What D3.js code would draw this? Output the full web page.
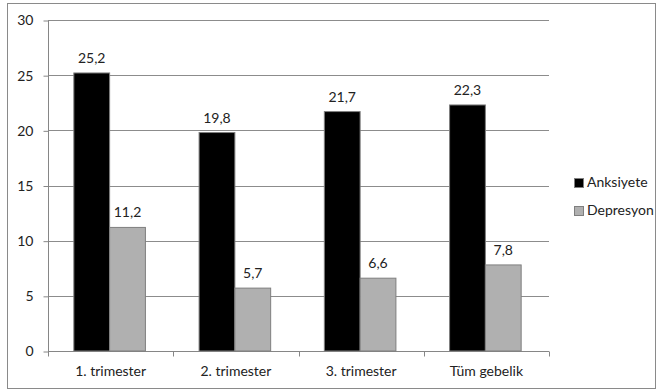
<!DOCTYPE html>
<html>
<head>
<meta charset="utf-8">
<script src="https://cdn.jsdelivr.net/npm/d3@7"></script>
<style>
    body { margin: 0; background: #fff; }
    text { font-family: Lato, 'Open Sans', sans-serif; fill: #222; }
</style>
</head>
<body>
<div id="chart"></div>
<script>
// data
const categories = ['1. trimester', '2. trimester', '3. trimester', 'Tüm gebelik'];
const seriesNames = ['Anksiyete', 'Depresyon'];
const anksiyete = [25.2, 19.8, 21.7, 22.3];
const depresyon = [11.2, 5.7, 6.6, 7.8];
const yTicks = [0, 5, 10, 15, 20, 25, 30];

const colors = { Anksiyete: '#000000', Depresyon: '#b0b0b0' };

const W = 660, H = 391;
const plot = { left: 48, right: 549, top: 20, bottom: 351 };

const svg = d3.select('#chart').append('svg').attr('width', W).attr('height', H);

// outer frame
svg.append('rect')
    .attr('x', 7.5).attr('y', 3.5)
    .attr('width', 648).attr('height', 385)
    .attr('fill', '#fff').attr('stroke', '#8a8a8a');

const x0 = d3.scaleBand().domain(categories).range([plot.left, plot.right]);
const bw = x0.bandwidth();
const barW = bw / 3.5;
const x1 = d3.scaleBand().domain(seriesNames).range([0.75 * barW - 1, bw - 0.75 * barW - 1]);
const y = d3.scaleLinear().domain([0, 30]).range([plot.bottom, plot.top]);

// gridlines
svg.append('g')
    .selectAll('line')
    .data(yTicks.filter((d) => d > 0))
    .join('line')
    .attr('x1', plot.left).attr('x2', plot.right)
    .attr('y1', (d) => Math.round(y(d)) + 0.5).attr('y2', (d) => Math.round(y(d)) + 0.5)
    .attr('stroke', '#8c8c8c');

// y axis
const gy = svg.append('g')
    .attr('transform', `translate(${plot.left + 0.5},0.5)`)
    .call(d3.axisLeft(y).tickValues(yTicks).tickSize(5).tickPadding(10).tickFormat(d3.format('d')));
gy.select('.domain').attr('stroke', '#868686').attr('d', `M0,${plot.top}V${plot.bottom}`);
gy.selectAll('.tick line').attr('stroke', '#868686');
gy.selectAll('.tick text').style('font-size', '14px').style('font-family', 'Lato').attr('fill', '#222');

// x axis, ticks between categories
const gx = svg.append('g').attr('transform', `translate(0,${plot.bottom + 0.5})`);
gx.append('line')
    .attr('x1', plot.left).attr('x2', plot.right)
    .attr('stroke', '#868686');
gx.selectAll('.sep')
    .data(categories.concat(['end']))
    .join('line')
    .attr('class', 'sep')
    .attr('x1', (d, i) => Math.round(plot.left + i * bw) + 0.5)
    .attr('x2', (d, i) => Math.round(plot.left + i * bw) + 0.5)
    .attr('y1', 0).attr('y2', 5)
    .attr('stroke', '#868686');
gx.selectAll('.lbl')
    .data(categories)
    .join('text')
    .attr('class', 'lbl')
    .attr('x', (d) => x0(d) + bw / 2)
    .attr('y', 24)
    .attr('text-anchor', 'middle')
    .style('font-size', '14px')
    .text((d) => d);

// bars
const rows = categories.map((c, i) => ({ cat: c, vals: [
    { key: 'Anksiyete', v: anksiyete[i] },
    { key: 'Depresyon', v: depresyon[i] },
] }));

const groups = svg.append('g')
    .selectAll('g')
    .data(rows)
    .join('g')
    .attr('transform', (d) => `translate(${x0(d.cat)},0)`);

groups.selectAll('rect')
    .data((d) => d.vals)
    .join('rect')
    .attr('x', (d) => x1(d.key))
    .attr('y', (d) => y(d.v))
    .attr('width', x1.bandwidth())
    .attr('height', (d) => y(0) - y(d.v))
    .attr('fill', (d) => colors[d.key])
    .attr('stroke', '#7f7f7f')
    .attr('stroke-width', 1);

groups.selectAll('text')
    .data((d) => d.vals)
    .join('text')
    .attr('x', (d) => x1(d.key) + x1.bandwidth() / 2)
    .attr('y', (d) => y(d.v) - 10)
    .attr('text-anchor', 'middle')
    .style('font-size', '14px')
    .text((d) => d3.format('.1f')(d.v).replace('.', ','));

// legend
const legend = svg.append('g')
    .selectAll('g')
    .data(seriesNames)
    .join('g')
    .attr('transform', (d, i) => `translate(574,${178 + i * 28})`);

legend.append('rect')
    .attr('x', 0.5).attr('y', 0.5)
    .attr('width', 9).attr('height', 9)
    .attr('fill', (d) => colors[d])
    .attr('stroke', '#7f7f7f');

legend.append('text')
    .attr('x', 13)
    .attr('y', 9)
    .style('font-size', '14px')
    .text((d) => d);
</script>
</body>
</html>
